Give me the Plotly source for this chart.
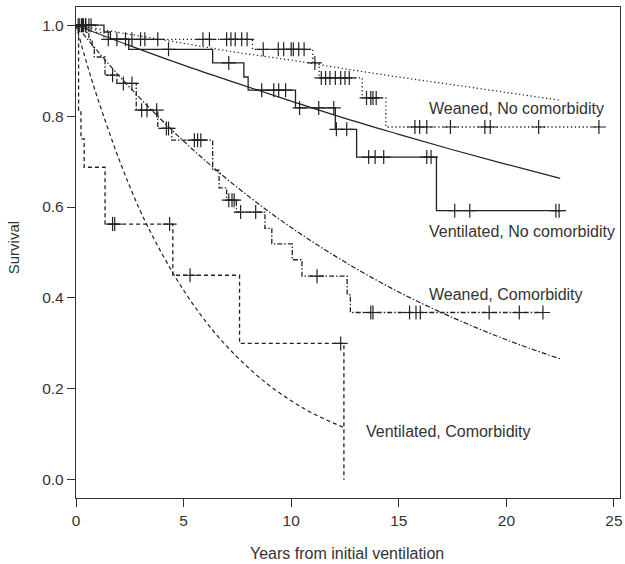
import plotly.graph_objects as go
import bisect

# ---------------- data ----------------
# Kaplan-Meier step data: event times and survival after each event
wn_t = [0.9, 1.3, 8.2, 11.0, 11.3, 13.3, 14.4]
wn_s = [0.984, 0.969, 0.947, 0.917, 0.884, 0.840, 0.776]
wn_end = 24.35
wn_cens = [0.25, 0.45, 0.7, 1.5, 1.9, 2.3, 2.6, 3.0, 3.2, 3.8, 5.9, 6.2, 7.0, 7.2, 7.4,
           7.7, 7.95, 8.7, 9.4, 9.65, 10.0, 10.1, 10.35, 10.6, 11.1, 11.4, 11.6, 11.8,
           12.05, 12.3, 12.5, 12.7, 13.5, 13.7, 13.8, 13.95, 15.75, 15.97, 16.3, 17.4,
           19.0, 19.25, 21.5, 24.3]

vn_t = [1.3, 1.6, 2.45, 6.35, 7.8, 8.0, 10.2, 12.05, 13.04, 16.75]
vn_s = [0.985, 0.970, 0.947, 0.917, 0.886, 0.857, 0.818, 0.771, 0.710, 0.592]
vn_end = 22.5
vn_cens = [0.15, 0.35, 0.6, 4.3, 7.1, 8.63, 9.19, 9.42, 9.74, 10.39, 11.28, 11.98,
           12.1, 12.58, 13.6, 13.9, 14.3, 16.3, 16.5, 17.6, 18.3, 22.3, 22.45]

wc_t = [0.5, 0.6, 0.75, 0.85, 1.35, 1.9, 2.8, 3.8, 4.45, 6.35, 6.65, 7.0, 7.45,
        8.78, 9.1, 10.05, 10.5, 12.6, 12.75]
wc_s = [0.984, 0.968, 0.952, 0.930, 0.890, 0.872, 0.813, 0.773, 0.747, 0.681, 0.642,
        0.615, 0.589, 0.553, 0.519, 0.484, 0.448, 0.407, 0.368]
wc_end = 21.7
wc_cens = [0.1, 0.3, 0.45, 1.7, 2.2, 2.6, 3.05, 3.3, 3.75, 4.2, 4.3, 5.5, 5.65, 5.8,
           7.1, 7.25, 7.35, 7.65, 8.35, 11.2, 13.7, 13.8, 15.5, 15.8, 16.0, 19.2,
           20.6, 21.7]

vc_t = [0.12, 0.23, 0.38, 1.35, 4.5, 7.6, 12.45]
vc_s = [0.8125, 0.75, 0.6875, 0.5625, 0.45, 0.30, 0.0]
vc_end = 12.45
vc_cens = [1.7, 1.8, 4.35, 5.3, 12.3]

# Fitted parametric curves
wn_fit_t = [0, 2.5, 5, 7.5, 10, 12.5, 15, 17.5, 20, 22.5]
wn_fit_s = [1.0, 0.980, 0.960, 0.940, 0.923, 0.904, 0.886, 0.869, 0.852, 0.835]

vn_fit_t = [0, 2.5, 5, 7.5, 10, 12.5, 15, 17.5, 20, 22.5]
vn_fit_s = [1.0, 0.955, 0.912, 0.872, 0.833, 0.795, 0.760, 0.726, 0.694, 0.663]

wc_fit_t = [0, 1, 2.5, 5, 7.5, 10, 12.5, 15, 17.5, 20, 22.5]
wc_fit_s = [1.0, 0.943, 0.863, 0.745, 0.643, 0.555, 0.479, 0.413, 0.357, 0.308, 0.266]

vc_fit_t = [0, 0.5, 1, 2, 3, 4, 5, 6, 7, 8, 9, 10, 11, 12.45]
vc_fit_s = [1.0, 0.916, 0.840, 0.705, 0.590, 0.497, 0.417, 0.350, 0.294, 0.247,
            0.207, 0.174, 0.146, 0.115]

labels = ["Weaned, No comorbidity", "Ventilated, No comorbidity",
          "Weaned, Comorbidity", "Ventilated, Comorbidity"]
label_x = [16.31, 16.31, 16.31, 13.4]
label_y = [0.817, 0.546, 0.407, 0.107]

x_ticks = [0, 5, 10, 15, 20, 25]
y_ticks = [0.0, 0.2, 0.4, 0.6, 0.8, 1.0]

# ---------------- styling ----------------
INK = "#222222"
TXT = "#333333"
DOT = "1.3px,2.6px"
DASH = "4px,3px"
DASHDOT = "5px,2px,1.5px,2px"


def km_xy(times, surv, end):
    xs = [0.0] + list(times) + [end]
    ys = [1.0] + list(surv) + [surv[-1]]
    return xs, ys


def km_at(times, surv, t):
    i = bisect.bisect_right(times, t)
    return 1.0 if i == 0 else surv[i - 1]


fig = go.Figure()

groups = [
    (wn_t, wn_s, wn_end, wn_cens, wn_fit_t, wn_fit_s, DOT),
    (vn_t, vn_s, vn_end, vn_cens, vn_fit_t, vn_fit_s, "solid"),
    (wc_t, wc_s, wc_end, wc_cens, wc_fit_t, wc_fit_s, DASHDOT),
    (vc_t, vc_s, vc_end, vc_cens, vc_fit_t, vc_fit_s, DASH),
]

for t, s, end, cens, ft, fs, dash in groups:
    xs, ys = km_xy(t, s, end)
    fig.add_trace(go.Scatter(x=xs, y=ys, mode="lines", line_shape="hv",
                             line=dict(color=INK, width=1.3, dash=dash),
                             showlegend=False, hoverinfo="skip"))
    fig.add_trace(go.Scatter(x=ft, y=fs, mode="lines", line_shape="spline",
                             line=dict(color=INK, width=1.2, dash=dash),
                             showlegend=False, hoverinfo="skip"))
    fig.add_trace(go.Scatter(x=cens, y=[km_at(t, s, c) for c in cens], mode="markers",
                             marker=dict(symbol="cross-thin", size=10,
                                         line=dict(color=INK, width=1.2)),
                             showlegend=False, hoverinfo="skip"))

for txt, lx, ly in zip(labels, label_x, label_y):
    fig.add_annotation(x=lx, y=ly, text=txt, showarrow=False, xanchor="left",
                       yanchor="middle", font=dict(size=16, color=TXT))

fig.add_annotation(xref="paper", yref="paper", x=-0.1146, y=0.51, text="Survival",
                   textangle=-90, showarrow=False, xanchor="center", yanchor="middle",
                   font=dict(size=15, color=TXT))
fig.add_annotation(xref="paper", yref="paper", x=0.499, y=-0.114,
                   text="Years from initial ventilation",
                   showarrow=False, xanchor="center", yanchor="middle",
                   font=dict(size=16, color=TXT))

axis_common = dict(showline=True, linecolor=TXT, linewidth=1.3, mirror=True,
                   ticks="outside", ticklen=8, tickwidth=1.2, tickcolor=TXT,
                   showgrid=False, zeroline=False, ticklabeloverflow="allow",
                   tickfont=dict(size=15.5, color=TXT))

fig.update_layout(
    width=625, height=564,
    margin=dict(l=76, r=2, t=7, b=66),
    paper_bgcolor="white", plot_bgcolor="white",
    font=dict(family="Liberation Sans, Arial, sans-serif", color=TXT),
    xaxis=dict(range=[0, 25.28], tickvals=x_ticks,
               ticktext=[str(v) for v in x_ticks], **axis_common),
    yaxis=dict(range=[-0.04, 1.04], tickvals=y_ticks,
               ticktext=["%.1f" % v for v in y_ticks], **axis_common),
)

fig.write_html("out.html", config={"displayModeBar": False},
               post_script="document.body.style.margin='0';document.body.style.overflow='hidden';")
